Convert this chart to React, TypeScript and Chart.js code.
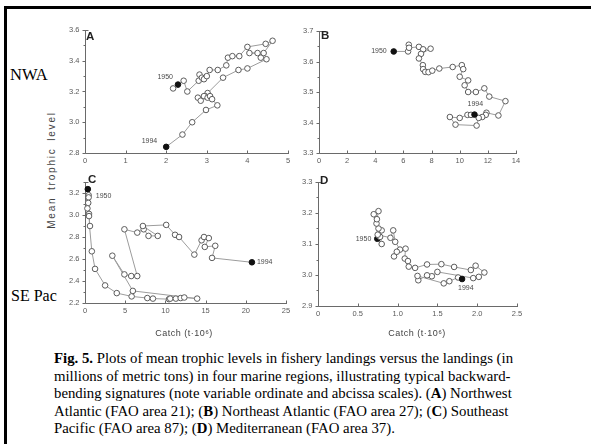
import React, { useEffect, useRef } from "react";
import { Chart, registerables } from "chart.js";
Chart.register(...registerables);

// ---------- Panel A: Northwest Atlantic (FAO 21) ----------
const catchA = [2.29, 2.17, 2.43, 2.52, 2.80, 2.82, 2.88, 2.93, 3.00, 3.07, 3.27, 3.48, 3.52, 3.63, 3.80, 4.00, 4.45, 4.62, 4.40, 4.05, 4.25, 4.33, 4.47, 4.00, 3.78, 3.40, 3.02, 2.96, 2.78, 2.85, 2.93, 3.02, 3.08, 3.13, 3.26, 2.98, 2.64, 2.40, 2.00];
const tlA = [3.245, 3.22, 3.27, 3.20, 3.27, 3.31, 3.29, 3.28, 3.30, 3.34, 3.34, 3.37, 3.42, 3.43, 3.43, 3.49, 3.51, 3.53, 3.45, 3.45, 3.45, 3.42, 3.41, 3.35, 3.34, 3.29, 3.19, 3.17, 3.16, 3.14, 3.17, 3.16, 3.17, 3.15, 3.11, 3.08, 3.00, 2.92, 2.84];
const xTicksA = [0, 1, 2, 3, 4, 5];
const xLabelsA = ["0", "1", "2", "3", "4", "5"];
const yTicksA = [2.8, 3.0, 3.2, 3.4, 3.6];
const yLabelsA = ["2.8", "3.0", "3.2", "3.4", "3.6"];
const yMinorA = [2.9, 3.1, 3.3, 3.5];

// ---------- Panel B: Northeast Atlantic (FAO 27) ----------
const catchB = [5.31, 6.33, 6.38, 6.40, 7.10, 7.40, 7.93, 7.25, 7.10, 7.38, 7.40, 7.55, 7.78, 8.05, 8.55, 9.50, 10.15, 10.25, 10.00, 10.60, 10.35, 10.60, 11.15, 11.75, 12.10, 13.25, 12.75, 11.90, 11.85, 11.60, 11.35, 11.20, 9.70, 9.30, 10.00, 10.55, 10.80, 11.05];
const tlB = [3.633, 3.633, 3.655, 3.645, 3.648, 3.640, 3.642, 3.625, 3.610, 3.588, 3.575, 3.566, 3.565, 3.570, 3.577, 3.582, 3.588, 3.575, 3.550, 3.538, 3.522, 3.500, 3.500, 3.512, 3.485, 3.470, 3.423, 3.432, 3.425, 3.418, 3.415, 3.390, 3.393, 3.418, 3.415, 3.425, 3.425, 3.426];
const xTicksB = [0, 2, 4, 6, 8, 10, 12, 14];
const xLabelsB = ["0", "2", "4", "6", "8", "10", "12", "14"];
const yTicksB = [3.3, 3.4, 3.5, 3.6, 3.7];
const yLabelsB = ["3.3", "3.4", "3.5", "3.6", "3.7"];
const yMinorB = [3.35, 3.45, 3.55, 3.65];

// ---------- Panel C: Southeast Pacific (FAO 87) ----------
const catchC = [0.35, 0.45, 0.45, 0.40, 0.30, 0.50, 0.50, 0.62, 0.85, 1.25, 2.50, 3.95, 5.80, 7.75, 8.45, 10.45, 10.60, 11.30, 11.90, 12.35, 13.95, 5.95, 3.40, 4.90, 5.75, 6.50, 4.90, 6.50, 7.30, 7.90, 9.05, 7.20, 10.10, 11.20, 11.70, 13.60, 14.50, 14.80, 15.40, 14.90, 16.20, 15.80, 20.76];
const tlC = [3.235, 3.18, 3.16, 3.11, 3.06, 3.01, 2.99, 2.90, 2.67, 2.51, 2.36, 2.29, 2.26, 2.245, 2.24, 2.235, 2.24, 2.24, 2.245, 2.25, 2.24, 2.31, 2.63, 2.46, 2.445, 2.445, 2.87, 2.84, 2.87, 2.81, 2.81, 2.90, 2.91, 2.82, 2.80, 2.64, 2.77, 2.80, 2.79, 2.71, 2.72, 2.61, 2.57];
const xTicksC = [0, 5, 10, 15, 20, 25];
const xLabelsC = ["0", "5", "10", "15", "20", "25"];
const yTicksC = [2.2, 2.4, 2.6, 2.8, 3.0, 3.2];
const yLabelsC = ["2.2", "2.4", "2.6", "2.8", "3.0", "3.2"];
const yMinorC = [2.3, 2.5, 2.7, 2.9, 3.1, 3.3];

// ---------- Panel D: Mediterranean (FAO 37) ----------
const catchD = [0.745, 0.80, 0.78, 0.80, 0.76, 0.735, 0.74, 0.76, 0.70, 0.75, 0.91, 0.945, 0.97, 1.03, 0.955, 0.99, 1.10, 1.09, 1.13, 1.14, 1.22, 1.37, 1.55, 1.71, 1.92, 1.98, 2.09, 2.02, 1.95, 1.50, 1.43, 1.37, 1.26, 1.25, 1.58, 1.65, 1.76, 1.81];
const tlD = [3.117, 3.100, 3.123, 3.144, 3.150, 3.166, 3.180, 3.206, 3.196, 3.130, 3.120, 3.144, 3.107, 3.082, 3.060, 3.075, 3.085, 3.053, 3.045, 3.027, 3.023, 3.034, 3.035, 3.026, 3.016, 3.030, 3.008, 2.994, 2.990, 3.010, 2.996, 2.999, 2.983, 2.997, 2.973, 2.980, 2.992, 2.987];
const xTicksD = [0, 0.5, 1.0, 1.5, 2.0, 2.5];
const xLabelsD = ["0", "0.5", "1.0", "1.5", "2.0", "2.5"];
const yTicksD = [2.9, 3.0, 3.1, 3.2, 3.3];
const yLabelsD = ["2.9", "3.0", "3.1", "3.2", "3.3"];
const yMinorD = [2.95, 3.05, 3.15, 3.25];

const panelLetters = ["A", "B", "C", "D"];
const yearStart = "1950";
const yearEnd = "1994";

const captionLines = [
  [["b", "Fig. 5."], ["n", " Plots of mean trophic levels in fishery landings versus the landings (in"]],
  [["n", "millions of metric tons) in four marine regions, illustrating typical backward-"]],
  [["n", "bending signatures (note variable ordinate and abcissa scales). ("], ["b", "A"], ["n", ") Northwest"]],
  [["n", "Atlantic (FAO area 21); ("], ["b", "B"], ["n", ") Northeast Atlantic (FAO area 27); ("], ["b", "C"], ["n", ") Southeast"]],
  [["n", "Pacific (FAO area 87); ("], ["b", "D"], ["n", ") Mediterranean (FAO area 37)."]],
];

type Note = { text: string; idx: "first" | "last"; dx: number; dy: number; align: CanvasTextAlign };
type PanelDef = {
  letter: string;
  xs: number[]; ys: number[];
  xMin: number; xMax: number; yMin: number; yMax: number;
  xTicks: number[]; xLabels: string[]; yTicks: number[]; yLabels: string[]; yMinor: number[];
  area: { l: number; r: number; t: number; b: number };
  letterPos: { dx: number; dy: number };
  notes: Note[];
};

const PAD = { left: 34, top: 14, right: 14, bottom: 18 };

const panels: PanelDef[] = [
  {
    letter: panelLetters[0], xs: catchA, ys: tlA, xMin: 0, xMax: 5, yMin: 2.8, yMax: 3.6,
    xTicks: xTicksA, xLabels: xLabelsA, yTicks: yTicksA, yLabels: yLabelsA, yMinor: yMinorA,
    area: { l: 85, r: 288, t: 30, b: 153 },
    letterPos: { dx: 1, dy: 1 },
    notes: [
      { text: yearStart, idx: "first", dx: -5, dy: -8, align: "right" },
      { text: yearEnd, idx: "last", dx: -9, dy: -6, align: "right" },
    ],
  },
  {
    letter: panelLetters[1], xs: catchB, ys: tlB, xMin: 0, xMax: 14, yMin: 3.3, yMax: 3.7,
    xTicks: xTicksB, xLabels: xLabelsB, yTicks: yTicksB, yLabels: yLabelsB, yMinor: yMinorB,
    area: { l: 319, r: 516, t: 31, b: 153 },
    letterPos: { dx: 2, dy: -1 },
    notes: [
      { text: yearStart, idx: "first", dx: -7, dy: 0, align: "right" },
      { text: yearEnd, idx: "last", dx: -7, dy: -11, align: "left" },
    ],
  },
  {
    letter: panelLetters[2], xs: catchC, ys: tlC, xMin: 0, xMax: 25, yMin: 2.2, yMax: 3.3,
    xTicks: xTicksC, xLabels: xLabelsC, yTicks: yTicksC, yLabels: yLabelsC, yMinor: yMinorC,
    area: { l: 85, r: 286, t: 182, b: 303 },
    letterPos: { dx: 3, dy: -8 },
    notes: [
      { text: yearStart, idx: "first", dx: 8, dy: 7, align: "left" },
      { text: yearEnd, idx: "last", dx: 5, dy: 0, align: "left" },
    ],
  },
  {
    letter: panelLetters[3], xs: catchD, ys: tlD, xMin: 0, xMax: 2.5, yMin: 2.9, yMax: 3.3,
    xTicks: xTicksD, xLabels: xLabelsD, yTicks: yTicksD, yLabels: yLabelsD, yMinor: yMinorD,
    area: { l: 318, r: 517, t: 182, b: 306 },
    letterPos: { dx: 2, dy: -7 },
    notes: [
      { text: yearStart, idx: "first", dx: -6, dy: 0, align: "right" },
      { text: yearEnd, idx: "last", dx: -4, dy: 9, align: "left" },
    ],
  },
];

const AXIS_COLOR = "#6a6a6a";
const TICK_TEXT = "#5a5a5a";

const panelPlugin = {
  id: "panelAxes",
  beforeDatasetsDraw(chart: any) {
    const o: PanelDef = chart.options.plugins.panelAxes.def;
    const ctx = chart.ctx;
    const xs = chart.scales.x;
    const ys = chart.scales.y;
    const { left, right, top, bottom } = chart.chartArea;
    const L = Math.round(left) + 0.5;
    const B = Math.round(bottom) + 0.5;
    ctx.save();
    ctx.strokeStyle = AXIS_COLOR;
    ctx.lineWidth = 1;
    ctx.beginPath();
    ctx.moveTo(L, Math.round(top));
    ctx.lineTo(L, B);
    ctx.lineTo(Math.round(right) + 1, B);
    o.yTicks.forEach((v) => {
      const py = Math.round(ys.getPixelForValue(v)) + 0.5;
      ctx.moveTo(L - 3, py);
      ctx.lineTo(L, py);
    });
    o.yMinor.forEach((v) => {
      const py = Math.round(ys.getPixelForValue(v)) + 0.5;
      ctx.moveTo(L - 2, py);
      ctx.lineTo(L, py);
    });
    o.xTicks.forEach((v) => {
      const px = Math.round(xs.getPixelForValue(v)) + 0.5;
      ctx.moveTo(px, B);
      ctx.lineTo(px, B - 3);
    });
    const topPx = Math.round(ys.getPixelForValue(o.yMax)) + 0.5;
    ctx.moveTo(L, topPx);
    ctx.lineTo(L + 3, topPx);
    ctx.stroke();

    ctx.fillStyle = TICK_TEXT;
    ctx.font = '7.5px "Liberation Sans", Arial, sans-serif';
    ctx.textAlign = "right";
    ctx.textBaseline = "middle";
    o.yTicks.forEach((v, i) => {
      ctx.fillText(o.yLabels[i], L - 6, ys.getPixelForValue(v));
    });
    ctx.textAlign = "center";
    ctx.textBaseline = "top";
    o.xTicks.forEach((v, i) => {
      ctx.fillText(o.xLabels[i], xs.getPixelForValue(v), B + 4);
    });
    ctx.restore();
  },
  afterDatasetsDraw(chart: any) {
    const o: PanelDef = chart.options.plugins.panelAxes.def;
    const ctx = chart.ctx;
    const xs = chart.scales.x;
    const ys = chart.scales.y;
    const { left } = chart.chartArea;
    ctx.save();
    ctx.fillStyle = "#222";
    ctx.font = 'bold 11.5px "Liberation Sans", Arial, sans-serif';
    ctx.textAlign = "left";
    ctx.textBaseline = "top";
    ctx.fillText(o.letter, Math.round(left) + o.letterPos.dx, ys.getPixelForValue(o.yMax) + o.letterPos.dy);

    ctx.fillStyle = "#4a4a4a";
    ctx.font = '7px "Liberation Sans", Arial, sans-serif';
    ctx.textBaseline = "middle";
    o.notes.forEach((n) => {
      const i = n.idx === "first" ? 0 : o.xs.length - 1;
      const px = xs.getPixelForValue(o.xs[i]);
      const py = ys.getPixelForValue(o.ys[i]);
      ctx.textAlign = n.align;
      ctx.fillText(n.text, px + n.dx, py + n.dy);
    });
    ctx.restore();
  },
};

function Panel({ def }: { def: PanelDef }) {
  const ref = useRef<HTMLCanvasElement | null>(null);
  const w = def.area.r - def.area.l + PAD.left + PAD.right;
  const h = def.area.b - def.area.t + PAD.top + PAD.bottom;
  useEffect(() => {
    if (!ref.current) return;
    const n = def.xs.length;
    const data = def.xs.map((x, i) => ({ x, y: def.ys[i] }));
    const chart = new Chart(ref.current, {
      type: "line",
      data: {
        datasets: [
          {
            data,
            borderColor: "#9c9c9c",
            borderWidth: 1,
            tension: 0,
            fill: false,
            clip: false as any,
            pointRadius: 2.8,
            pointBorderWidth: 1,
            pointBorderColor: data.map((_, i) => (i === 0 || i === n - 1 ? "#111" : "#5c5c5c")),
            pointBackgroundColor: data.map((_, i) => (i === 0 || i === n - 1 ? "#111" : "#ffffff")),
          },
        ],
      },
      options: {
        responsive: false,
        animation: false,
        events: [],
        layout: { padding: PAD },
        scales: {
          x: { type: "linear", min: def.xMin, max: def.xMax, display: false },
          y: { type: "linear", min: def.yMin, max: def.yMax, display: false },
        },
        plugins: {
          legend: { display: false },
          tooltip: { enabled: false },
          panelAxes: { def } as any,
        } as any,
      },
      plugins: [panelPlugin as any],
    });
    return () => chart.destroy();
  }, [def]);
  return (
    <canvas
      ref={ref}
      width={w}
      height={h}
      style={{ position: "absolute", left: def.area.l - PAD.left, top: def.area.t - PAD.top, width: w, height: h }}
    />
  );
}

export default function App() {
  const sans = '"Liberation Sans", Arial, sans-serif';
  const serif = '"Liberation Serif", "Times New Roman", serif';
  return (
    <div style={{ position: "absolute", left: 0, top: 0, width: 591, height: 444, background: "#fff", overflow: "hidden" }}>
      <div
        style={{
          position: "absolute", left: 4, top: 6, width: 587, height: 435,
          borderTop: "3px solid #000", borderLeft: "3px solid #000", borderBottom: "3px solid #000", boxSizing: "content-box",
        }}
      />
      <div style={{ position: "absolute", left: 10, top: 67, font: `16.5px/16px ${serif}`, color: "#000", whiteSpace: "nowrap" }}>NWA</div>
      <div style={{ position: "absolute", left: 11, top: 288, font: `16px/16px ${serif}`, color: "#000", whiteSpace: "nowrap" }}>SE Pac</div>
      <div
        style={{
          position: "absolute", left: 52 - 80, top: 170 - 6, width: 160, height: 12, textAlign: "center",
          font: `10px/12px ${sans}`, letterSpacing: "1.8px", wordSpacing: "2px", color: "#444",
          transform: "rotate(-90deg)", transformOrigin: "50% 50%", whiteSpace: "nowrap",
        }}
      >
        Mean trophic level
      </div>
      {panels.map((p) => (
        <Panel key={p.letter} def={p} />
      ))}
      <div style={{ position: "absolute", left: 184 - 50, top: 327, width: 100, textAlign: "center", font: `9px/12px ${sans}`, letterSpacing: "0.5px", color: "#444" }}>
        Catch (t·10⁶)
      </div>
      <div style={{ position: "absolute", left: 417 - 50, top: 327, width: 100, textAlign: "center", font: `9px/12px ${sans}`, letterSpacing: "0.5px", color: "#444" }}>
        Catch (t·10⁶)
      </div>
      <div style={{ position: "absolute", left: 54, top: 350, width: 530, font: `14.8px/17.5px ${serif}`, color: "#000" }}>
        {captionLines.map((line, li) => (
          <div key={li} style={{ whiteSpace: "nowrap", height: 17.5 }}>
            {line.map(([k, t], j) =>
              k === "b" ? <b key={j}>{t}</b> : <span key={j}>{t}</span>
            )}
          </div>
        ))}
      </div>
    </div>
  );
}
